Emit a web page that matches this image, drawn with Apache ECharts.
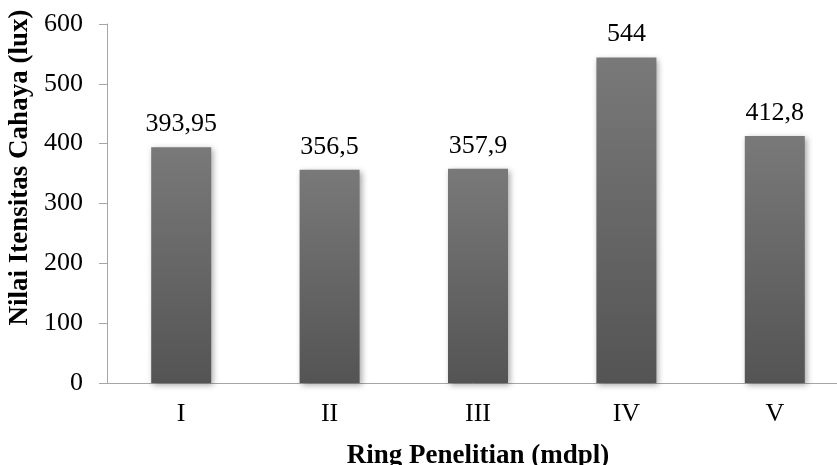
<!DOCTYPE html>
<html>
<head>
<meta charset="utf-8">
<script src="https://cdn.jsdelivr.net/npm/echarts@6/dist/echarts.min.js"></script>
<style>
  html, body { margin: 0; padding: 0; background: #fff; }
  #main { width: 837px; height: 465px; }
</style>
</head>
<body>
<div id="main"></div>
<script>
var categories = ['I', 'II', 'III', 'IV', 'V'];
var values = [393.95, 356.5, 357.9, 544, 412.8];
var yTicks = [0, 100, 200, 300, 400, 500, 600];

var myChart = echarts.init(document.getElementById('main'));

var font = '"Liberation Serif", "Times New Roman", serif';

var option = {
    animation: false,
    grid: {
        left: 107,
        top: 24,
        right: -12,
        bottom: 82,
        containLabel: false,
        outerBoundsMode: 'none'
    },
    xAxis: {
        type: 'category',
        data: categories,
        name: 'Ring Penelitian (mdpl)',
        nameLocation: 'middle',
        nameGap: 60,
        nameTextStyle: {
            fontFamily: font,
            fontSize: 27,
            fontWeight: 'bold',
            color: '#000'
        },
        axisLine: { lineStyle: { color: '#a6a6a6', width: 1 } },
        axisTick: { show: false },
        axisLabel: {
            fontFamily: font,
            fontSize: 26,
            color: '#000',
            margin: 18
        }
    },
    yAxis: {
        type: 'value',
        min: yTicks[0],
        max: yTicks[yTicks.length - 1],
        interval: 100,
        name: 'Nilai Itensitas Cahaya (lux)',
        nameLocation: 'middle',
        nameGap: 66,
        nameTextStyle: {
            fontFamily: font,
            fontSize: 27,
            fontWeight: 'bold',
            color: '#000',
            padding: [0, 0, 0, 72]
        },
        splitLine: { show: false },
        axisLine: { show: true, lineStyle: { color: '#a6a6a6', width: 1 } },
        axisTick: { show: true, length: 8, lineStyle: { color: '#a6a6a6' } },
        axisLabel: {
            fontFamily: font,
            fontSize: 26,
            color: '#000',
            margin: 24
        }
    },
    series: [{
        type: 'bar',
        data: values,
        barWidth: 60,
        itemStyle: {
            color: new echarts.graphic.LinearGradient(0, 0, 0, 1, [
                { offset: 0, color: '#797979' },
                { offset: 1, color: '#545454' }
            ]),
            shadowBlur: 6,
            shadowColor: 'rgba(0,0,0,0.35)',
            shadowOffsetX: 2,
            shadowOffsetY: 2
        },
        label: {
            show: true,
            position: 'top',
            distance: 10,
            fontFamily: font,
            fontSize: 26,
            color: '#000',
            formatter: function (p) {
                return String(p.value).replace('.', ',');
            }
        }
    }]
};

myChart.setOption(option);
</script>
</body>
</html>
